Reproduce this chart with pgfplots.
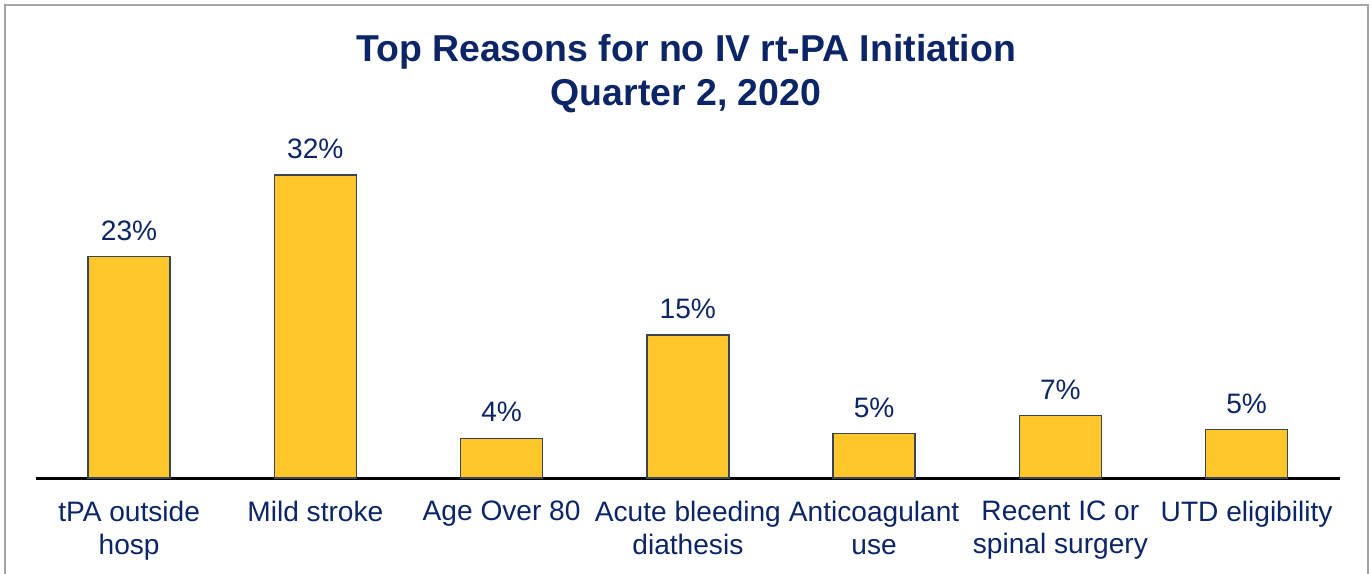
\documentclass[border=0pt]{standalone}
\usepackage{pgfplots}
\pgfplotsset{compat=1.18}
\usepackage{fontspec}
\setmainfont{Liberation Sans}
\definecolor{navy}{HTML}{0B2566}
\definecolor{bargold}{HTML}{FFC72C}
\definecolor{baredge}{HTML}{3A4455}
\definecolor{frame}{HTML}{A6A6A6}
\begin{document}
\begin{tikzpicture}[x=0.02cm,y=0.02cm]
\useasboundingbox (0,0) rectangle (1371,574);
\draw[frame,line width=1.2pt] (5,0) -- (5,569) -- (1368,569) -- (1368,0);
\node[text=navy,font=\fontsize{21.3}{25}\selectfont\bfseries,align=center] at (686,500)
  {Top Reasons for no IV rt-PA Initiation\\Quarter 2, 2020};
\begin{axis}[
    at={(0.72cm,1.92cm)}, anchor=south west,
    scale only axis,
    width=26.08cm, height=6.76cm,
    xmin=-0.5, xmax=6.5,
    ymin=0, ymax=35.7,
    axis x line=bottom, axis y line=none,
    x axis line style={-,black,line width=1.7pt},
    ybar, bar width=1.64cm,
    xtick=data, major tick length=0pt,
    xticklabels={tPA outside\\hosp, Mild stroke, Age Over 80, Acute bleeding\\diathesis, Anticoagulant\\use, Recent IC or\\spinal surgery, UTD eligibility},
    xticklabel style={align=center,text=navy,font=\fontsize{16}{18.8}\selectfont,yshift=-9.5pt},
    /pgf/number format/assume math mode=true,
    nodes near coords={\pgfmathprintnumber[fixed,precision=0]{\pgfplotspointmeta}\%},
    nodes near coords style={text=navy,font=\fontsize{16}{18}\selectfont,yshift=5.5pt},
    clip=false,
  ]
  \addplot[fill=bargold,draw=baredge,line width=0.8pt] coordinates {
    (0,23.4) (1,32.0) (2,4.2) (3,15.1) (4,4.7) (5,6.6) (6,5.1)
  };
\end{axis}
\end{tikzpicture}
\end{document}
